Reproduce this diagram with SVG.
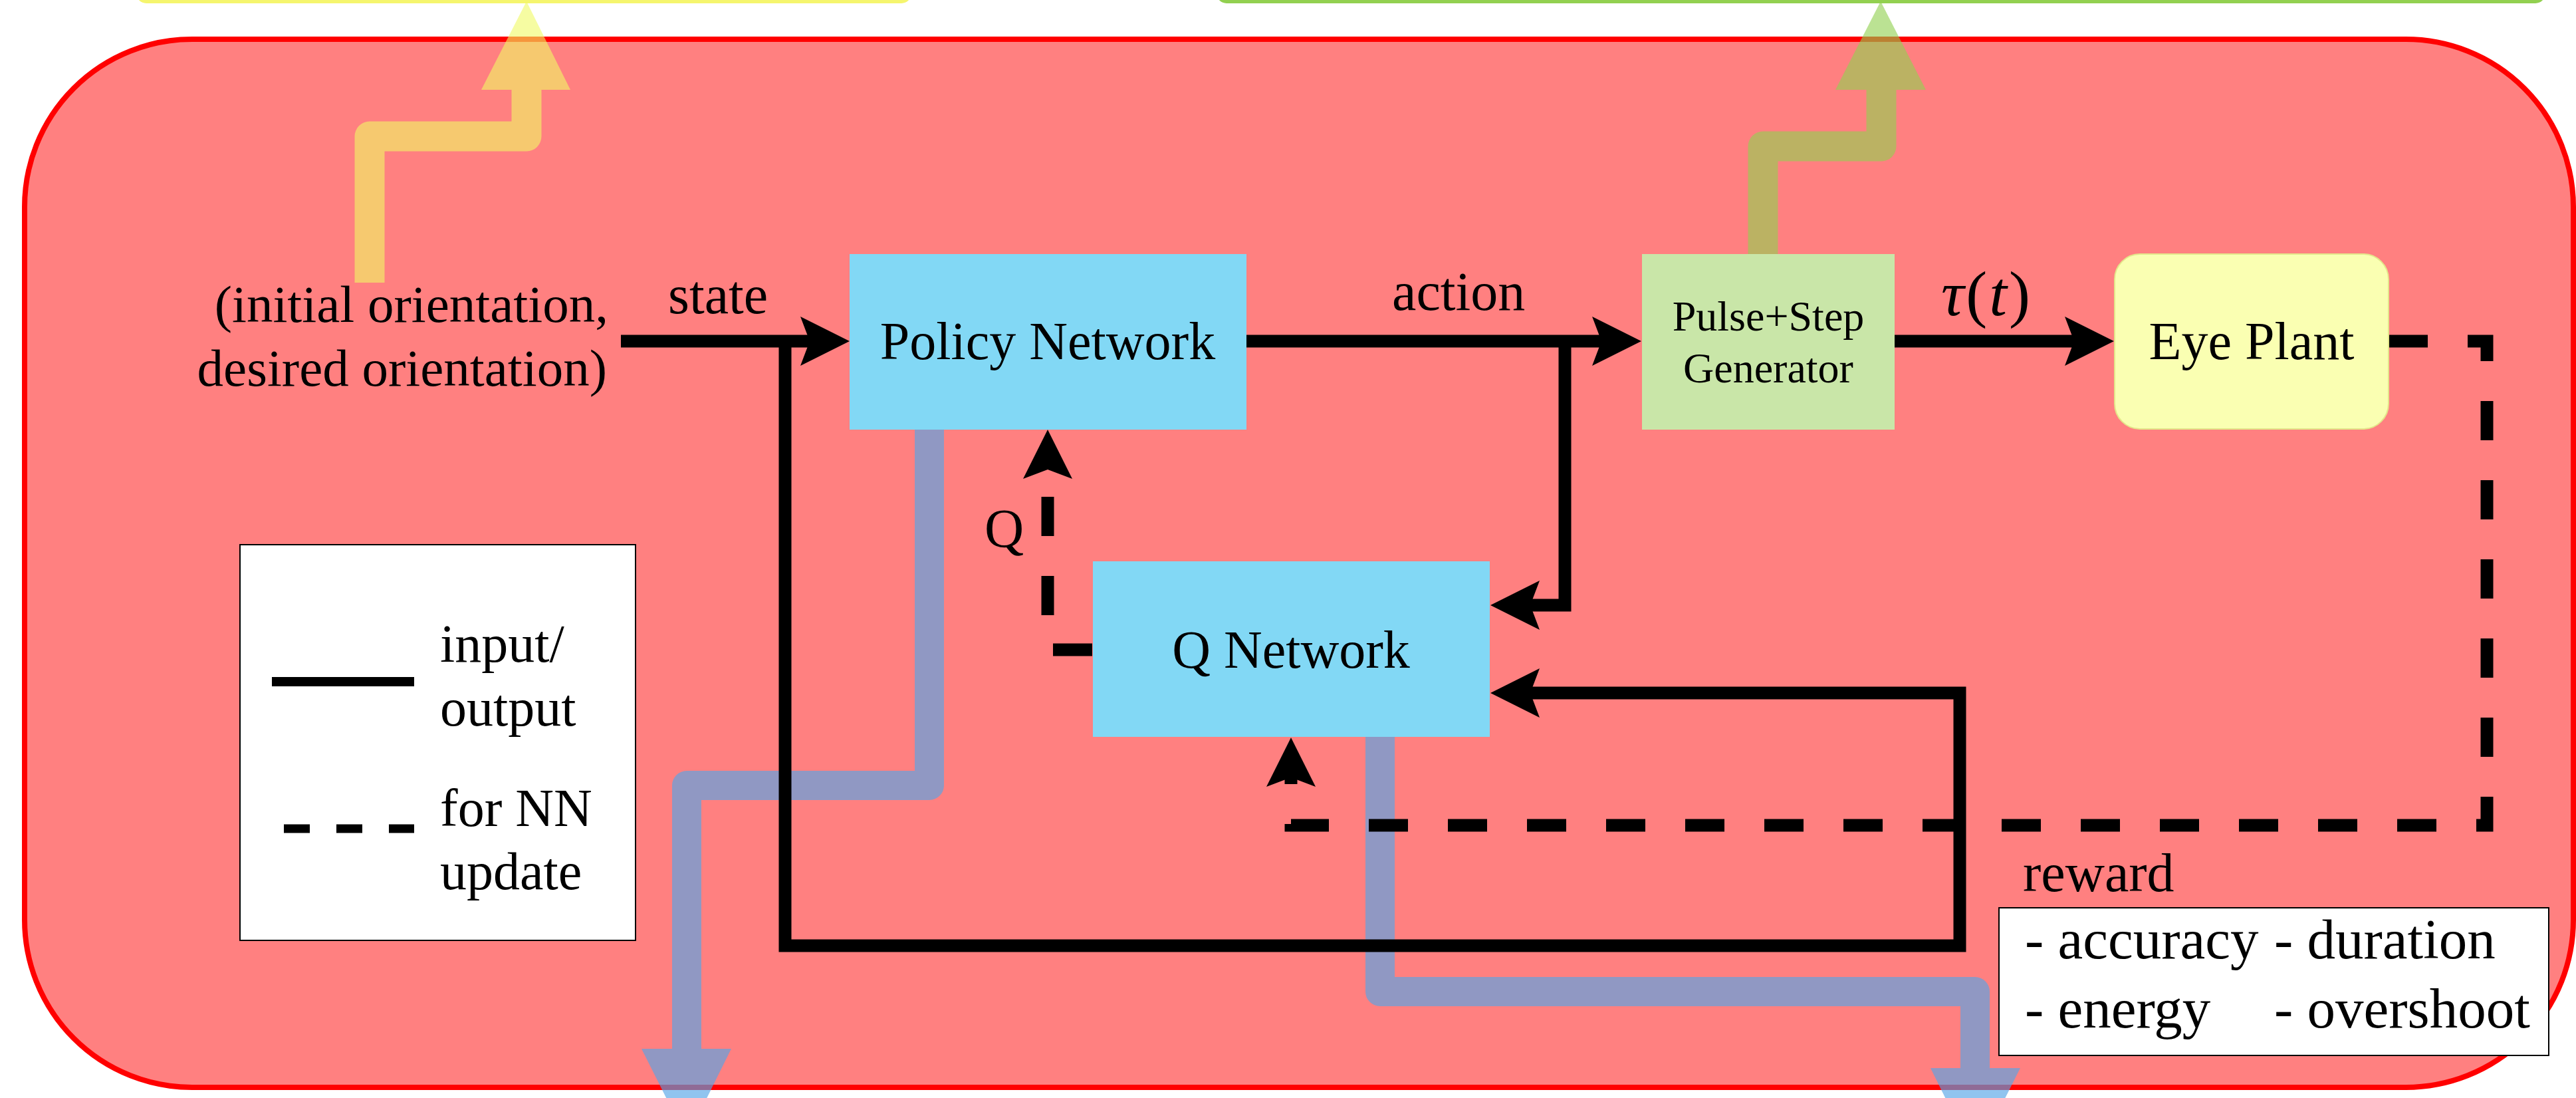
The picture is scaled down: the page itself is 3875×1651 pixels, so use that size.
<svg xmlns="http://www.w3.org/2000/svg" width="3875" height="1651" viewBox="0 0 3875 1651">
<style>
text{font-family:"Liberation Serif","Times New Roman",serif;fill:#000}
.lbl{font-size:82px}
.box{font-size:80px;text-anchor:middle}
.io{fill:none;stroke:#000;stroke-width:19;stroke-linejoin:miter}
.nn{fill:none;stroke:#000;stroke-width:19;stroke-dasharray:59 60}
.blue{fill:none;stroke:#55A5E6;stroke-opacity:0.65;stroke-width:44;stroke-linejoin:round}
.blueh{fill:#55A5E6;fill-opacity:0.65}
</style>
<defs>
<marker id="ah" markerUnits="userSpaceOnUse" viewBox="-20 -40 85 80" refX="0" refY="0" markerWidth="85" markerHeight="80" orient="auto">
<path d="M60,0 L-14,-37 L0,0 L-14,37 Z" fill="#000"/>
</marker>
</defs>
<rect id="env" x="37" y="59" width="3834" height="1576" rx="252" ry="252" fill="#FF8080" stroke="#FF0000" stroke-width="8"/>
<rect id="topYellow" x="208" y="-300" width="1160" height="302" rx="12" fill="#FAFFB2" stroke="#F5F56E" stroke-width="6"/>
<rect id="topGreen" x="1833" y="-300" width="1993" height="302" rx="12" fill="#E6F5D6" stroke="#92D050" stroke-width="6"/>
<g id="hierarchy">
<path d="M556,425 V205 H792 V135" fill="none" stroke="#F0FA64" stroke-opacity="0.6" stroke-width="45" stroke-linejoin="round"/>
<polygon points="724,135 858,135 792,2" fill="#F0FA64" fill-opacity="0.6"/>
<path d="M2652,385 V220 H2830 V135" fill="none" stroke="#92D050" stroke-opacity="0.62" stroke-width="45" stroke-linejoin="round"/>
<polygon points="2761,135 2897,135 2829,2" fill="#92D050" fill-opacity="0.62"/>
<path class="blue" d="M1398,645 V1181 H1033 V1577"/>
<polygon class="blueh" points="965,1577 1100,1577 1033,1712"/>
<path class="blue" d="M2076,1108 V1491 H2971 V1606"/>
<polygon class="blueh" points="2904,1606 3039,1606 2971,1741"/>
</g>
<g id="connectors">
<path class="io" d="M934,513 H1218" marker-end="url(#ah)"/>
<path class="io" d="M1181,513 V1422 H2948 V1042 H2302" marker-end="url(#ah)"/>
<path class="io" d="M1874,513 H2409" marker-end="url(#ah)"/>
<path class="io" d="M2354,513 V910 H2302" marker-end="url(#ah)"/>
<path class="io" d="M2850,513 H3120" marker-end="url(#ah)"/>
<path class="nn" d="M1643,977 H1576 V706" marker-end="url(#ah)"/>
<path class="nn" d="M3593,513 H3741 V1241 H1942 V1169" marker-end="url(#ah)"/>
</g>
<g id="policy">
<rect x="1278" y="382" width="597" height="264" fill="#82D8F5"/>
<text class="box" x="1576" y="540">Policy Network</text>
</g>
<g id="pulse">
<rect x="2470" y="382" width="380" height="264" fill="#C9E6A8"/>
<text class="box" x="2660" y="497" style="font-size:64px">Pulse+Step</text>
<text class="box" x="2660" y="575" style="font-size:64px">Generator</text>
</g>
<g id="eye">
<rect x="3181" y="382" width="412" height="263" rx="38" ry="38" fill="#FAFFB2" stroke="#E3E68A" stroke-width="2"/>
<text class="box" x="3387" y="540">Eye Plant</text>
</g>
<g id="qnet">
<rect x="1644" y="844" width="597" height="264" fill="#82D8F5"/>
<text class="box" x="1942" y="1004">Q Network</text>
</g>
<g id="labels">
<text class="lbl" x="915" y="484" text-anchor="end" style="font-size:79px">(initial orientation,</text>
<text class="lbl" x="913" y="580" text-anchor="end" style="font-size:79px">desired orientation)</text>
<text class="lbl" x="1005" y="471">state</text>
<text class="lbl" x="2094" y="466">action</text>
<text x="2920" y="474" style="font-size:96px;letter-spacing:3px"><tspan font-style="italic">τ</tspan>(<tspan font-style="italic">t</tspan>)</text>
<text class="lbl" x="1481" y="822">Q</text>
<text class="lbl" x="3043" y="1340">reward</text>
</g>
<g id="legend">
<rect x="361" y="819" width="595" height="595" fill="#FFFFFF" stroke="#000" stroke-width="2"/>
<line x1="409" y1="1025" x2="623" y2="1025" stroke="#000" stroke-width="14"/>
<line x1="427" y1="1246" x2="623" y2="1246" stroke="#000" stroke-width="13" stroke-dasharray="39 40"/>
<text class="lbl" x="662" y="995" style="font-size:80px">input/</text>
<text class="lbl" x="662" y="1091" style="font-size:80px">output</text>
<text class="lbl" x="662" y="1242" style="font-size:80px">for NN</text>
<text class="lbl" x="662" y="1337" style="font-size:80px">update</text>
</g>
<g id="rewardbox">
<rect x="3007" y="1365" width="827" height="222" fill="#FFFFFF" stroke="#000" stroke-width="2"/>
<text x="3046" y="1441" style="font-size:85px">- accuracy</text>
<text x="3421" y="1441" style="font-size:85px">- duration</text>
<text x="3046" y="1545" style="font-size:85px">- energy</text>
<text x="3421" y="1545" style="font-size:85px">- overshoot</text>
</g>
</svg>
